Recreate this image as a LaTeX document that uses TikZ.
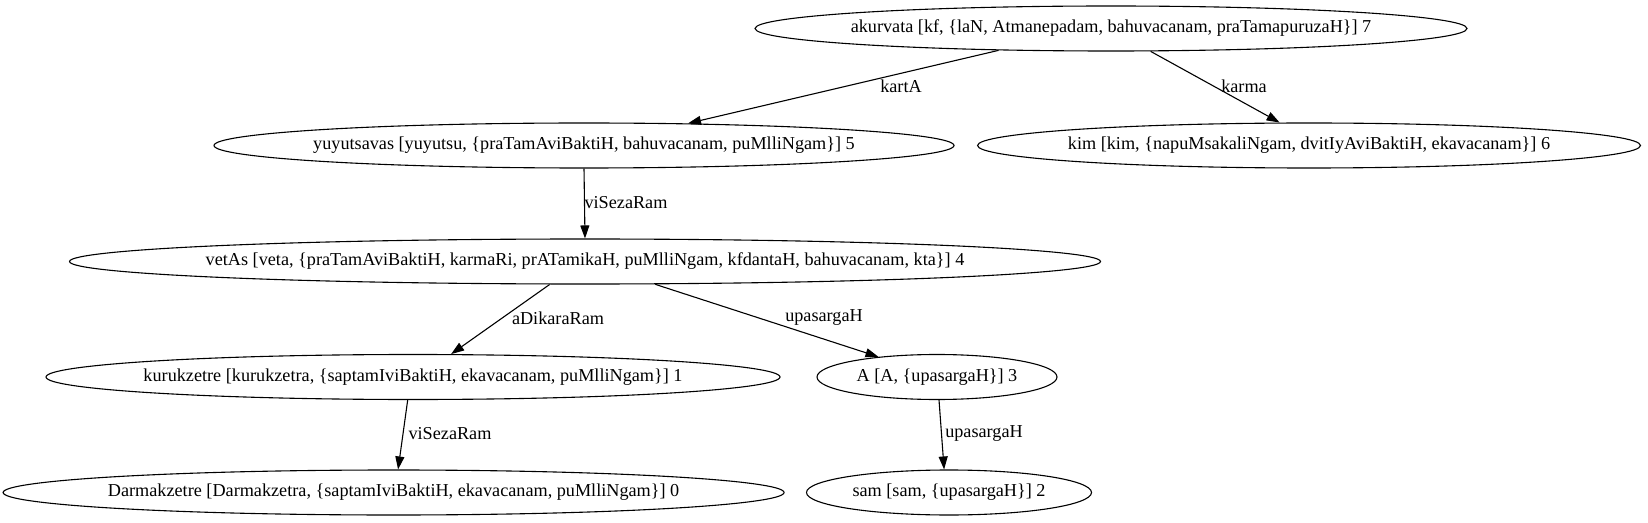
\documentclass[tikz,border=0pt]{standalone}
\usepackage{fontspec}
\setmainfont{Liberation Serif}
\usetikzlibrary{shapes.geometric,arrows.meta}
\begin{document}
\begin{tikzpicture}[x=1bp,y=-1bp,
  ell/.style={draw,ellipse,inner sep=0pt,minimum height=45bp,line width=1.1bp},
  txt/.style={inner sep=0pt,font=\fontsize{18.2bp}{22bp}\selectfont},
  lbl/.style={inner sep=0pt,font=\fontsize{18.2bp}{22bp}\selectfont},
  edge/.style={line width=1.1bp,-{Triangle[length=13bp,width=9bp]}}]
\useasboundingbox (0,0) rectangle (1648,523);
% nodes
\node[ell,minimum width=712bp] (n7) at (1111,28.5) {};
\node[txt] (t7) at (n7) {akurvata [kf, \{laN, Atmanepadam, bahuvacanam, praTamapuruzaH\}] 7};
\node[ell,minimum width=740bp] (n5) at (584,145.5) {};
\node[txt] (t5) at (n5) {yuyutsavas [yuyutsu, \{praTamAviBaktiH, bahuvacanam, puMlliNgam\}] 5};
\node[ell,minimum width=663bp] (n6) at (1309,145.5) {};
\node[txt] (t6) at (n6) {kim [kim, \{napuMsakaliNgam, dvitIyAviBaktiH, ekavacanam\}] 6};
\node[ell,minimum width=1031bp] (n4) at (585,261.5) {};
\node[txt] (t4) at (n4) {vetAs [veta, \{praTamAviBaktiH, karmaRi, prATamikaH, puMlliNgam, kfdantaH, bahuvacanam, kta\}] 4};
\node[ell,minimum width=734bp] (n1) at (413,377) {};
\node[txt] (t1) at (n1) {kurukzetre [kurukzetra, \{saptamIviBaktiH, ekavacanam, puMlliNgam\}] 1};
\node[ell,minimum width=240bp] (n3) at (937,377) {};
\node[txt] (t3) at (n3) {A [A, \{upasargaH\}] 3};
\node[ell,minimum width=781bp] (n0) at (393.6,492.5) {};
\node[txt] (t0) at (n0) {Darmakzetre [Darmakzetra, \{saptamIviBaktiH, ekavacanam, puMlliNgam\}] 0};
\node[ell,minimum width=285bp] (n2) at (949,492.5) {};
\node[txt] (t2) at (n2) {sam [sam, \{upasargaH\}] 2};
% edges
\draw[edge] (n7.191.9) -- (n5.12.1);
\draw[edge] (n7.330.2) -- (n6.142.3);
\draw[edge] (n5.270) -- (n4.90);
\draw[edge] (n4.213.4) -- (n1.31.2);
\draw[edge] (n4.342.1) -- (n3.161.2);
\draw[edge] (n1.257.5) -- (n0.79.9);
\draw[edge] (n3.275.1) -- (n2.102.5);
% labels
\node[lbl] (l75) at (901,86) {kartA};
\node[lbl] (l76) at (1244,86) {karma};
\node[lbl] (l54) at (626,203) {viSezaRam};
\node[lbl] (l41) at (558,318) {aDikaraRam};
\node[lbl] (l43) at (824,318) {upasargaH};
\node[lbl] (l10) at (450,434) {viSezaRam};
\node[lbl] (l32) at (984,434) {upasargaH};
\end{tikzpicture}
\end{document}
